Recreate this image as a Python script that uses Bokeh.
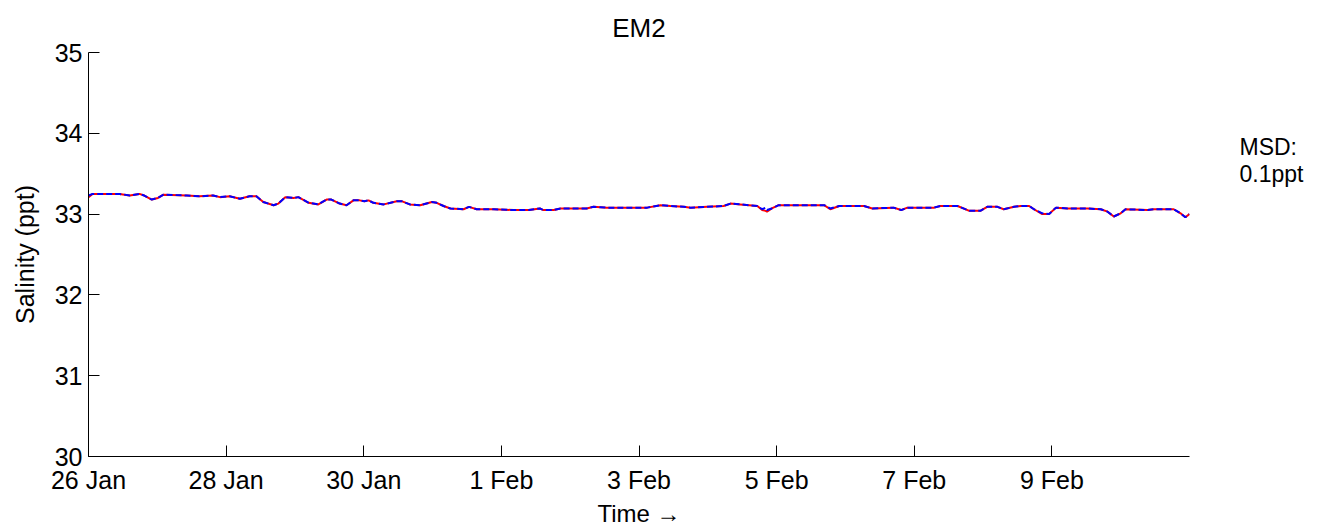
from bokeh.plotting import figure
from bokeh.models import Range1d, FixedTicker, LinearAxis
from bokeh.embed import file_html
from bokeh.resources import INLINE

# ---- data (days after 26 Jan 00:00, salinity in ppt) ----
days = [0.00, 0.06, 0.45, 0.60, 0.74, 0.81, 0.92, 1.01, 1.09, 1.43,
        1.61, 1.81, 1.91, 2.05, 2.20, 2.34, 2.44, 2.54, 2.69, 2.76,
        2.86, 2.98, 3.05, 3.20, 3.34, 3.46, 3.53, 3.65, 3.75, 3.85,
        3.94, 4.01, 4.07, 4.14, 4.29, 4.48, 4.55, 4.67, 4.82, 4.99,
        5.06, 5.16, 5.26, 5.45, 5.53, 5.64, 5.89, 6.18, 6.40, 6.56,
        6.61, 6.76, 6.86, 7.24, 7.34, 7.44, 7.53, 8.12, 8.31, 8.46,
        8.65, 8.75, 8.99, 9.23, 9.33, 9.47, 9.60, 9.72, 9.79, 9.84,
        9.86, 9.93, 10.03, 10.30, 10.69, 10.78, 10.91, 11.27, 11.39, 11.70,
        11.81, 11.90, 12.29, 12.38, 12.63, 12.80, 12.96, 13.06, 13.21, 13.30,
        13.45, 13.55, 13.67, 13.74, 13.86, 13.96, 14.06, 14.23, 14.52, 14.71,
        14.81, 14.90, 15.00, 15.07, 15.39, 15.48, 15.77, 15.87, 15.94, 16.00]

sal_red = [33.21, 33.25, 33.25, 33.23, 33.25, 33.23, 33.18, 33.20, 33.24, 33.23,
           33.22, 33.23, 33.21, 33.22, 33.19, 33.22, 33.22, 33.15, 33.11, 33.13,
           33.21, 33.20, 33.21, 33.14, 33.12, 33.18, 33.18, 33.13, 33.11, 33.17,
           33.17, 33.16, 33.17, 33.14, 33.12, 33.16, 33.16, 33.12, 33.11, 33.15,
           33.14, 33.10, 33.07, 33.06, 33.09, 33.06, 33.06, 33.05, 33.05, 33.07,
           33.05, 33.05, 33.07, 33.07, 33.09, 33.085, 33.08, 33.08, 33.11, 33.10,
           33.09, 33.08, 33.09, 33.10, 33.13, 33.12, 33.11, 33.10, 33.05, 33.04,
           33.03, 33.07, 33.11, 33.11, 33.11, 33.06, 33.10, 33.10, 33.07, 33.08,
           33.05, 33.08, 33.08, 33.10, 33.10, 33.04, 33.04, 33.09, 33.09, 33.06,
           33.09, 33.10, 33.10, 33.06, 33.00, 33.00, 33.08, 33.07, 33.07, 33.06,
           33.03, 32.97, 33.01, 33.06, 33.05, 33.06, 33.06, 33.01, 32.96, 33.00]

sal_blue = [33.23, 33.25, 33.25, 33.23, 33.25, 33.23, 33.18, 33.20, 33.24, 33.23,
            33.22, 33.23, 33.21, 33.22, 33.19, 33.22, 33.22, 33.15, 33.11, 33.13,
            33.21, 33.20, 33.21, 33.14, 33.12, 33.18, 33.18, 33.13, 33.11, 33.17,
            33.17, 33.16, 33.17, 33.14, 33.12, 33.16, 33.16, 33.12, 33.11, 33.15,
            33.14, 33.10, 33.07, 33.06, 33.09, 33.06, 33.06, 33.05, 33.05, 33.07,
            33.05, 33.05, 33.07, 33.07, 33.09, 33.085, 33.08, 33.08, 33.11, 33.10,
            33.09, 33.08, 33.09, 33.10, 33.13, 33.12, 33.11, 33.10, 33.06, 33.08,
            33.05, 33.07, 33.11, 33.11, 33.11, 33.07, 33.10, 33.10, 33.07, 33.08,
            33.05, 33.08, 33.08, 33.10, 33.10, 33.04, 33.04, 33.09, 33.09, 33.06,
            33.09, 33.10, 33.10, 33.06, 33.01, 33.00, 33.08, 33.07, 33.07, 33.06,
            33.03, 32.97, 33.01, 33.06, 33.05, 33.06, 33.06, 33.01, 32.96, 33.00]

tick_days = [0, 2, 4, 6, 8, 10, 12, 14]
tick_labels = ["26 Jan", "28 Jan", "30 Jan", "1 Feb", "3 Feb", "5 Feb", "7 Feb", "9 Feb"]
y_ticks = [30, 31, 32, 33, 34, 35]
msd_pos = [33.83, 33.50]
msd_text = ["MSD:", "0.1ppt"]

FONT = "Liberation Sans"

p = figure(width=1320, height=529, output_backend="svg", toolbar_location=None,
           x_range=Range1d(0, 16), y_range=Range1d(30, 35),
           min_border_left=88, min_border_right=131, min_border_top=52,
           min_border_bottom=71, title="EM2")
p.title.align = "center"
p.title.text_font = FONT
p.title.text_font_size = "26px"
p.title.text_font_style = "normal"
p.title.text_color = "black"
p.title.standoff = 20

p.outline_line_color = None
p.xgrid.visible = False
p.ygrid.visible = False

xa = p.xaxis[0]
xa.ticker = FixedTicker(ticks=tick_days)
xa.major_label_overrides = {d: l for d, l in zip(tick_days, tick_labels)}
xa.major_tick_in = 11
xa.major_tick_out = 0
xa.minor_tick_in = 0
xa.minor_tick_out = 0
xa.major_label_text_font = FONT
xa.major_label_text_font_size = "25px"
xa.major_label_standoff = 9
xa.axis_line_color = "black"
xa.major_tick_line_color = "black"
xa.major_label_text_color = "black"
xa.axis_label = "Time \u2192"
xa.axis_label_text_font = FONT
xa.axis_label_text_font_size = "24px"
xa.axis_label_text_font_style = "normal"
xa.axis_label_text_color = "black"
xa.axis_label_standoff = 3

ya = p.yaxis[0]
ya.ticker = FixedTicker(ticks=y_ticks)
ya.major_tick_in = 11
ya.major_tick_out = 0
ya.minor_tick_in = 0
ya.minor_tick_out = 0
ya.major_label_text_font = FONT
ya.major_label_text_font_size = "25px"
ya.major_label_standoff = 6
ya.axis_line_color = "black"
ya.major_tick_line_color = "black"
ya.major_label_text_color = "black"
ya.axis_label = "Salinity (ppt)"
ya.axis_label_text_font = FONT
ya.axis_label_text_font_size = "25px"
ya.axis_label_text_font_style = "normal"
ya.axis_label_text_color = "black"
ya.axis_label_standoff = 13

# right-hand annotation shown through an unlined axis
ra = LinearAxis(ticker=FixedTicker(ticks=msd_pos),
                major_label_overrides={v: t for v, t in zip(msd_pos, msd_text)})
ra.axis_line_color = None
ra.major_tick_line_color = None
ra.minor_tick_line_color = None
ra.major_label_standoff = 44
ra.major_label_text_font = FONT
ra.major_label_text_font_size = "23px"
ra.major_label_text_color = "black"
p.add_layout(ra, "right")

p.line(days, sal_red, line_color="#ff0000", line_width=2)
p.line(days, sal_blue, line_color="#0000ff", line_width=2, line_dash="6 3")

open("out.html", "w").write(file_html(p, INLINE))
